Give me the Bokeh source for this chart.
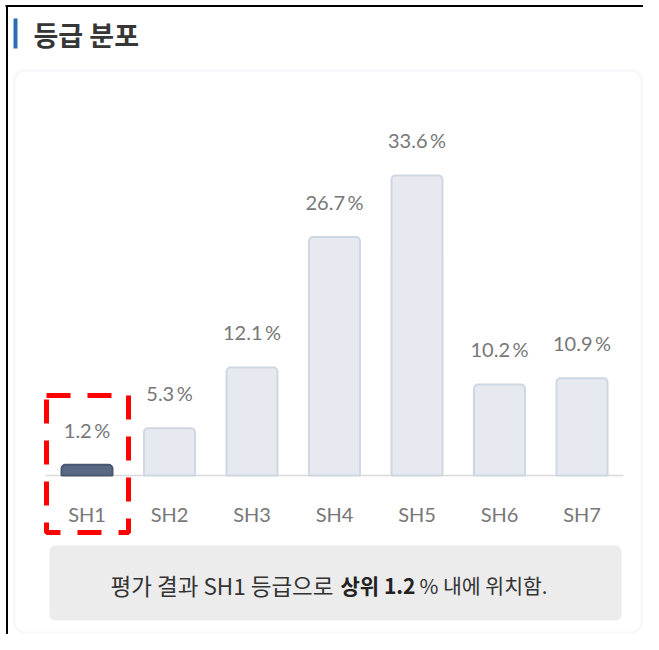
from bokeh.plotting import figure
from bokeh.models import Range1d, BoxAnnotation, ColumnDataSource
from bokeh.core.properties import value
from bokeh.embed import file_html
from bokeh.resources import INLINE

# ---------------- data ----------------
categories = ["SH1", "SH2", "SH3", "SH4", "SH5", "SH6", "SH7"]
shares = [1.2, 5.3, 12.1, 26.7, 33.6, 10.2, 10.9]
highlight = "SH1"
title_text = "등급 분포"
note_before = "평가 결과 SH1 등급으로"
note_bold = "상위 1.2"
note_after = "% 내에 위치함."

# ---------------- layout (pixel geometry of the canvas) ----------------
W, H = 643, 634
XS = 82.5           # px per category step
X0 = 86.5           # canvas px of first category centre
YS = 8.93           # px per percent
BASE = 475          # canvas px of the zero line


def fx(px):
    return (px - X0) / XS


def fy(py):
    return (BASE - py) / YS


p = figure(width=W, height=H, output_backend="svg", toolbar_location=None,
           x_range=Range1d((0 - X0) / XS, (W - X0) / XS),
           y_range=Range1d((BASE - H) / YS, BASE / YS),
           min_border=0, min_border_left=0, min_border_right=0,
           min_border_top=0, min_border_bottom=0)
p.xaxis.visible = False
p.yaxis.visible = False
p.xgrid.visible = False
p.ygrid.visible = False
p.outline_line_color = None
p.background_fill_color = "white"
p.border_fill_color = "white"

# card
card = BoxAnnotation(left=fx(14), right=fx(641), top=fy(70), bottom=fy(632),
                     fill_color="white", fill_alpha=1.0,
                     line_color="#dde4ee", line_width=2, border_radius=10,
                     level="underlay")
p.add_layout(card)

# note box
note_box = BoxAnnotation(left=fx(49), right=fx(621), top=fy(545), bottom=fy(620),
                         fill_color="#ececec", fill_alpha=1.0, line_color=None,
                         border_radius=6, level="underlay")
p.add_layout(note_box)

# outer black frame (top + left)
p.segment(x0=[fx(5), fx(6.5)], y0=[fy(5.5), fy(5)], x1=[fx(700), fx(6.5)], y1=[fy(5.5), fy(700)],
          line_color="black", line_width=2)

# title accent + title
p.quad(left=[fx(13)], right=[fx(17)], top=[fy(18)], bottom=[fy(48)],
       fill_color="#2d6cb5", line_color=None)
p.text(x=[fx(33)], y=[fy(34)], text=[title_text], text_font=value("Noto Sans CJK KR"),
       text_font_style="bold", text_font_size="27px", text_color="#363636",
       text_baseline="middle", text_align="left")

# baseline
p.segment(x0=[fx(45)], y0=[0], x1=[fx(623)], y1=[0], line_color="#dadada", line_width=1.5)

# bars
idx = list(range(len(categories)))
fills = ["#5b6883" if c == highlight else "#e6eaf0" for c in categories]
lines = ["#4b5770" if c == highlight else "#cfd7e2" for c in categories]
labels = [f"{v}\u2009%" for v in shares]
src = ColumnDataSource(dict(x=idx, top=shares, fill=fills, line=lines, label=labels, cat=categories))
p.vbar(x="x", top="top", bottom=0, width=51 / XS, source=src,
       fill_color="fill", line_color="line", line_width=2, border_radius=(4, 4, 0, 0))

# value labels
p.text(x="x", y="top", text="label", source=src, y_offset=-35,
       text_font=value("Lato"), text_font_size="20px", text_color="#777777",
       text_align="center", text_baseline="middle")

# category labels
p.text(x="x", y=0, text="cat", source=src, y_offset=38,
       text_font=value("Lato"), text_font_size="20px", text_color="#777777",
       text_align="center", text_baseline="middle")

# red dashed highlight frame
p.quad(left=[fx(46)], right=[fx(128)], top=[fy(395)], bottom=[fy(532)],
       fill_alpha=0, line_color="#ff0000", line_width=5, line_dash="24 17")

# note text
kfont = value("Noto Sans CJK KR")
p.text(x=[fx(333)], y=[fy(584)], text=[note_before], text_font=kfont, text_font_size="22.5px",
       text_color="#333333", text_align="right", text_baseline="middle")
p.text(x=[fx(340)], y=[fy(584)], text=[note_bold], text_font=kfont, text_font_size="21px",
       text_font_style="bold", text_color="#222222", text_align="left", text_baseline="middle")
p.text(x=[fx(419)], y=[fy(584)], text=[note_after], text_font=kfont, text_font_size="20.5px",
       text_color="#333333", text_align="left", text_baseline="middle")

open("out.html", "w").write(file_html(p, INLINE))
